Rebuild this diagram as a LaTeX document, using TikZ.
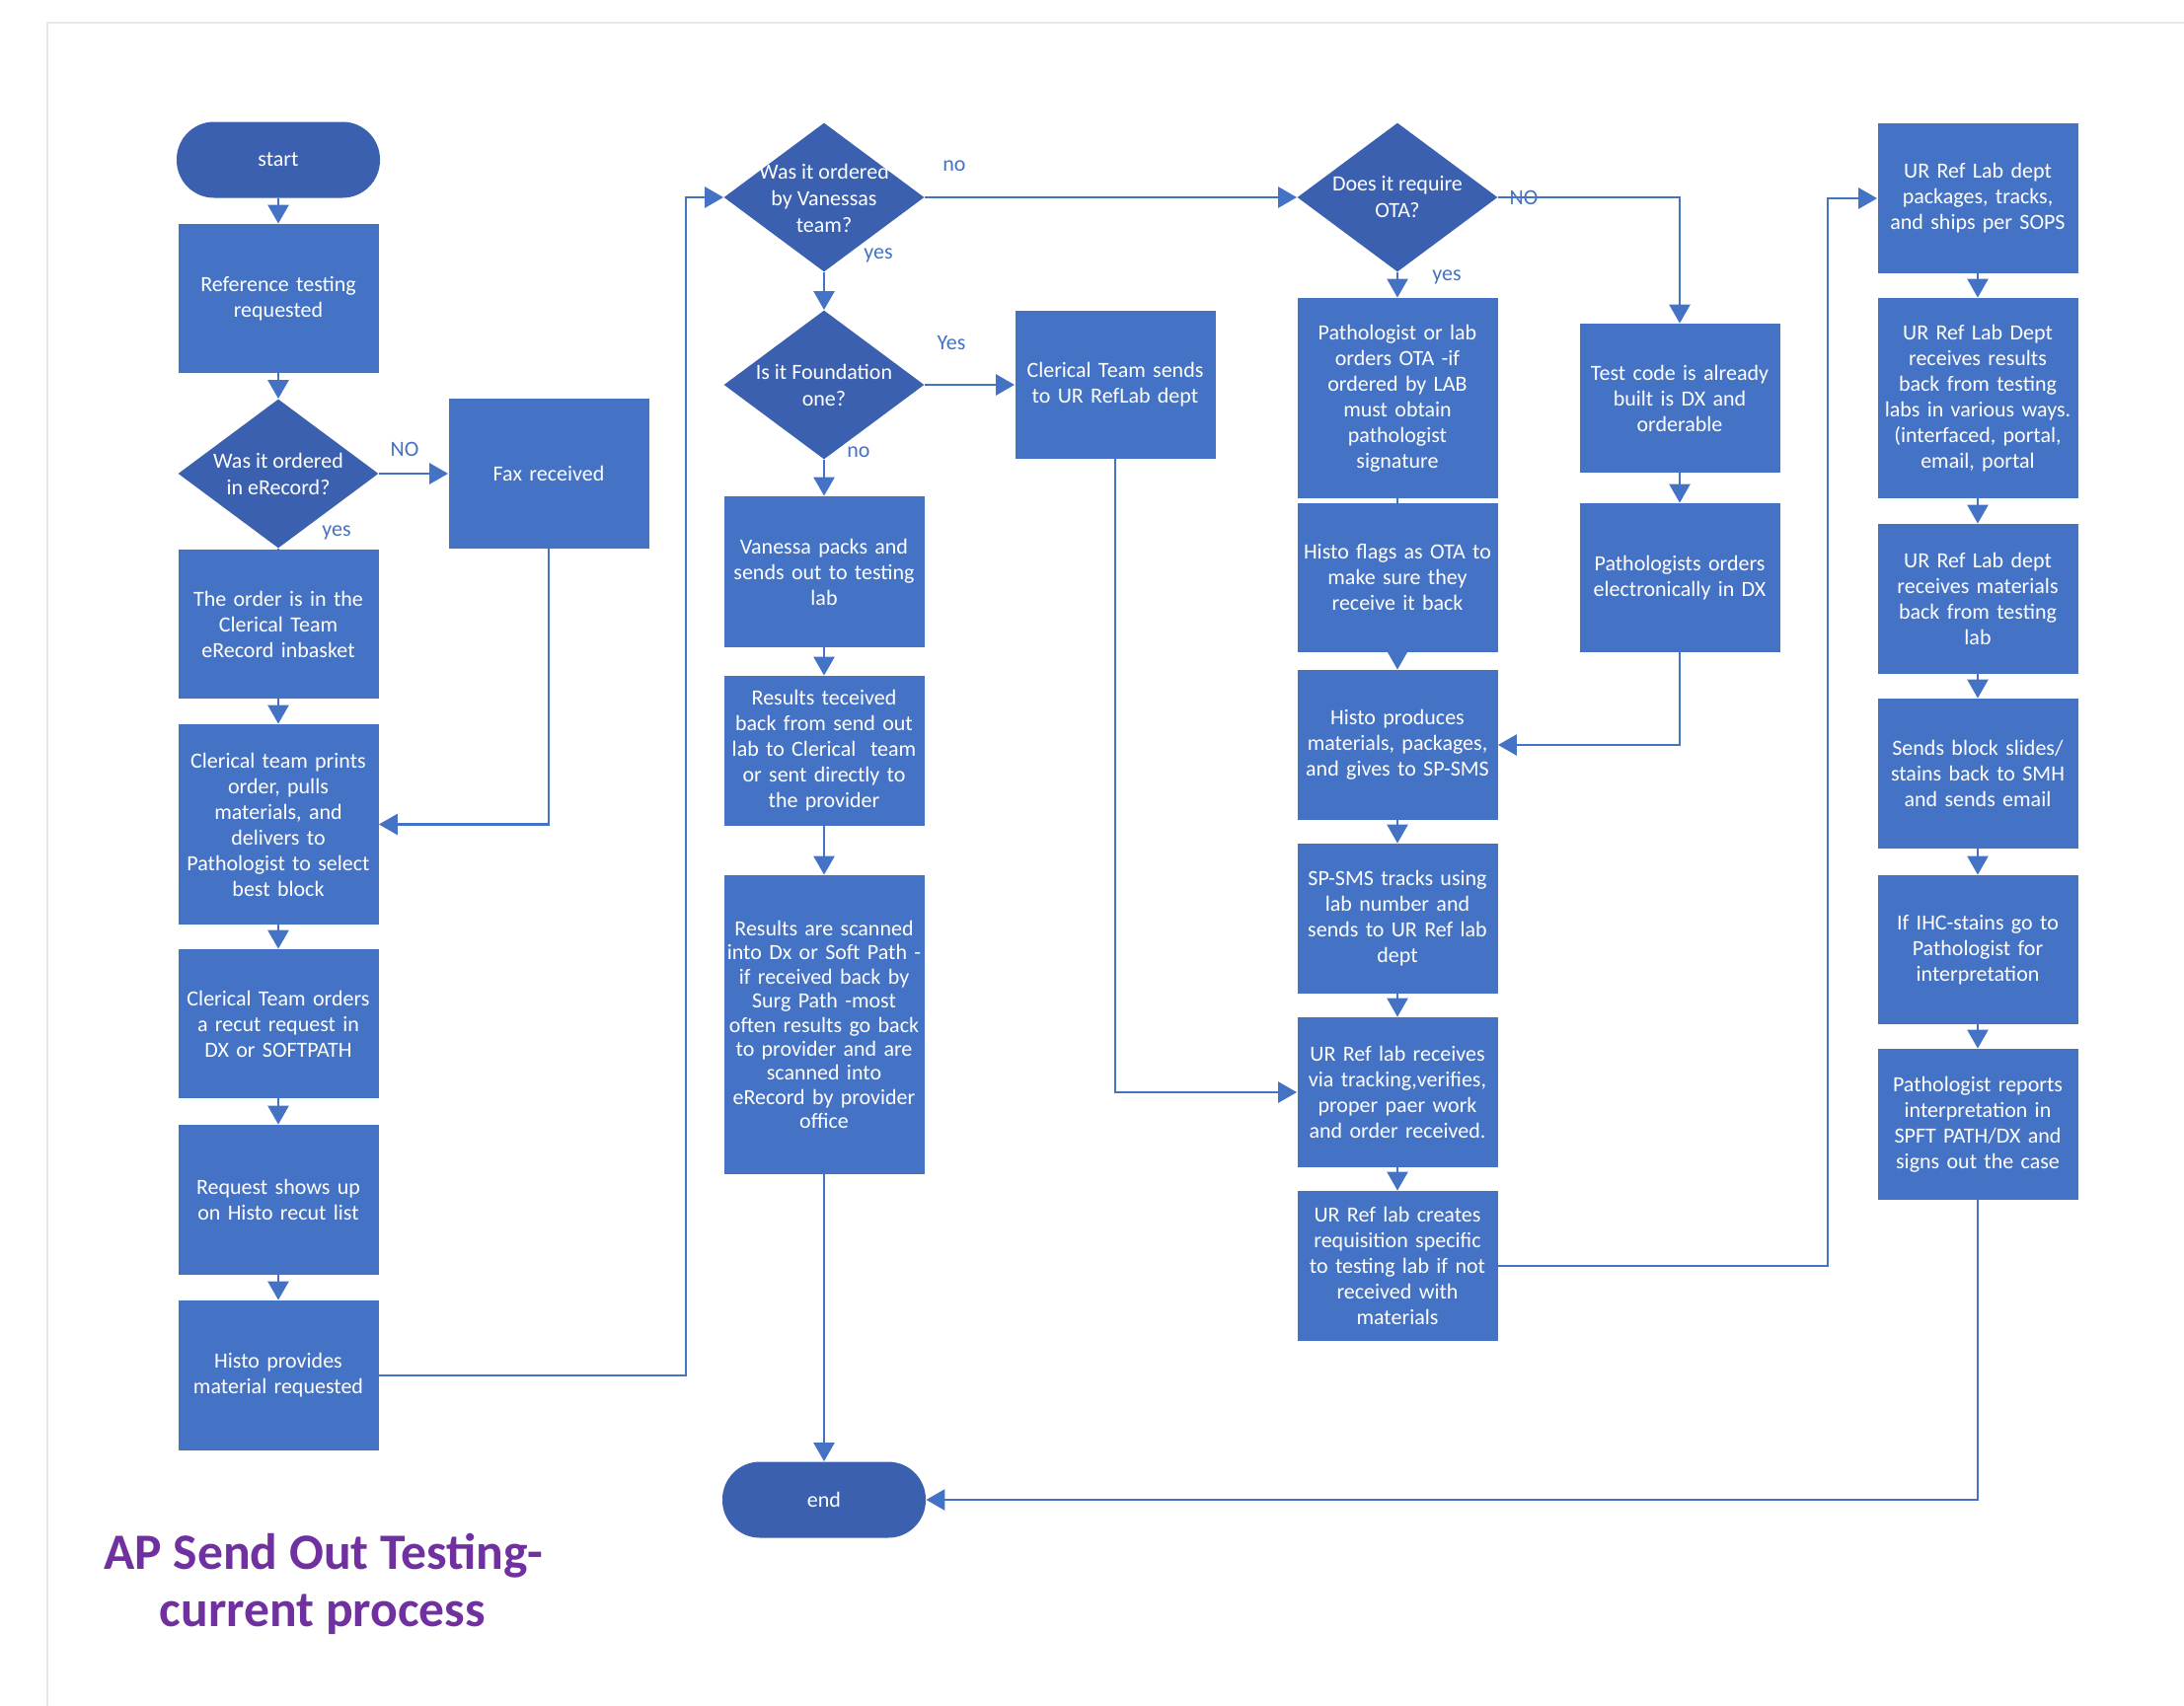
\documentclass[tikz,border=0pt]{standalone}
\usepackage{fontspec}
\setmainfont{Carlito}
\usetikzlibrary{shapes.geometric,arrows.meta}
\definecolor{boxblue}{RGB}{68,114,196}
\definecolor{darkblue}{RGB}{58,96,175}
\definecolor{titlepurple}{RGB}{112,48,160}
\definecolor{framegray}{RGB}{232,232,232}
\newcommand\bxfont{\fontsize{11}{13}\selectfont}
\begin{document}
\begin{tikzpicture}[x=0.5pt,y=-0.5pt,
  proc/.style={rectangle, fill=boxblue, text=white, minimum width=101.5pt, text width=100pt, align=center, inner sep=0pt, font=\bxfont},
  dia/.style={diamond, fill=darkblue, minimum width=101.5pt, minimum height=75.5pt, inner sep=0pt},
  diatext/.style={text=white, align=center, font=\fontsize{11}{13.5}\selectfont, inner sep=0pt},
  term/.style={rectangle, rounded corners=19pt, fill=darkblue, text=white, minimum width=103pt, minimum height=38.5pt, font=\bxfont, inner sep=0pt},
  lbl/.style={text=boxblue, font=\fontsize{11}{13}\selectfont, inner sep=0pt},
  conn/.style={draw=boxblue, line width=1.3pt},
  arr/.style={conn, -{Triangle[width=10.5pt,length=9.5pt]}},
  titletext/.style={text=titlepurple, font=\fontsize{25.8}{29}\selectfont\bfseries, inner sep=0pt, anchor=base}
]
\fill[white] (0,0) rectangle (2213,1729);
\useasboundingbox (0,0) rectangle (2213,1729);
\draw[framegray, line width=1.2pt] (48,1729) -- (48,23) -- (2213,23);

% column 1
\node[term] (start) at (282,162) {start};
\node[proc, minimum height=75.5pt] (ref) at (282,302.5) {Reference testing\\requested};
\node[dia] (d1) at (282,480) {};
\node[diatext] (d1t) at (282,480) {Was it ordered\\in eRecord?};
\node[proc, minimum height=76pt] (fax) at (556,480) {Fax received};
\node[proc, minimum height=75.5pt] (order) at (282,632.5) {The order is in the\\Clerical Team\\eRecord inbasket};
\node[proc, minimum height=101.5pt] (prints) at (282,835.5) {Clerical team prints\\order, pulls\\materials, and\\delivers to\\Pathologist to select\\best block};
\node[proc, minimum height=75.5pt] (orders) at (282,1037.5) {Clerical Team orders\\a recut request in\\DX or SOFTPATH};
\node[proc, minimum height=76pt] (request) at (282,1216) {Request shows up\\on Histo recut list};
\node[proc, minimum height=76pt] (histo1) at (282,1394) {Histo provides\\material requested};

% column 2
\node[dia] (d2) at (835,200) {};
\node[diatext] (d2t) at (835,201) {Was it ordered\\by Vanessas\\team?};
\node[dia] (d3) at (835,390) {};
\node[diatext] (d3t) at (835,390) {Is it Foundation\\one?};
\node[proc, minimum height=75pt] (clerk) at (1130,390) {Clerical Team sends\\to UR RefLab dept};
\node[proc, minimum height=76.5pt] (vanessa) at (835,579.5) {Vanessa packs and\\sends out to testing\\lab};
\node[proc, minimum height=76pt] (results1) at (835,761) {Results teceived\\back from send out\\lab to Clerical~ team\\or sent directly to\\the provider};
\node[proc, minimum height=151.5pt, font=\fontsize{11}{12.2}\selectfont] (results2) at (835,1038.5) {Results are scanned\\into Dx or Soft Path -\\if received back by\\Surg Path -most\\often results go back\\to provider and are\\scanned into\\eRecord by provider\\office};
\node[term] (end) at (835,1520) {end};

% column 3
\node[dia] (d4) at (1416,200) {};
\node[diatext] (d4t) at (1416,200) {Does it require\\OTA?};
\node[proc, minimum height=101.5pt] (pathlab) at (1416,403.5) {Pathologist or lab\\orders OTA -if\\ordered by LAB\\must obtain\\pathologist\\signature};
\node[proc, minimum height=75.5pt] (histoflags) at (1416,585.5) {Histo flags as OTA to\\make sure they\\receive it back};
\node[proc, minimum height=76pt] (histoprod) at (1416,755) {Histo produces\\materials, packages,\\and gives to SP-SMS};
\node[proc, minimum height=76pt] (spsms) at (1416,931) {SP-SMS tracks using\\lab number and\\sends to UR Ref lab\\dept};
\node[proc, minimum height=76pt] (urrecv) at (1416,1107) {UR Ref lab receives\\via tracking,verifies,\\proper paer work\\and order received.};
\node[proc, minimum height=76pt] (urcreate) at (1416,1283) {UR Ref lab creates\\requisition specific\\to testing lab if not\\received with\\materials};
\node[proc, minimum height=75.5pt] (testcode) at (1702,403.5) {Test code is already\\built is DX and\\orderable};
\node[proc, minimum height=75.5pt] (pathord) at (1702,585.5) {Pathologists orders\\electronically in DX};

% column 4
\node[proc, minimum height=76pt] (pkg) at (2004,201) {UR Ref Lab dept\\packages, tracks,\\and ships per SOPS};
\node[proc, minimum height=101.5pt] (results) at (2004,403.5) {UR Ref Lab Dept\\receives results\\back from testing\\labs in various ways.\\(interfaced, portal,\\email, portal};
\node[proc, minimum height=76pt] (materials) at (2004,607) {UR Ref Lab dept\\receives materials\\back from testing\\lab};
\node[proc, minimum height=76pt] (sends) at (2004,784) {Sends block slides/\\stains back to SMH\\and sends email};
\node[proc, minimum height=75.5pt] (ihc) at (2004,962.5) {If IHC-stains go to\\Pathologist for\\interpretation};
\node[proc, minimum height=76.5pt] (reports) at (2004,1139.5) {Pathologist reports\\interpretation in\\SPFT PATH/DX and\\signs out the case};

% labels
\node[lbl] (l1) at (410,455) {NO};
\node[lbl] (l2) at (341,540) {yes};
\node[lbl] (l3) at (967,168) {no};
\node[lbl] (l4) at (890,259) {yes};
\node[lbl] (l5) at (964,348) {Yes};
\node[lbl] (l6) at (870,458) {no};
\node[lbl] (l8) at (1466,281) {yes};

% title
\node[titletext] (title1) at (328,1590) {AP Send Out Testing-};
\node[titletext] (title2) at (327,1648) {current process};

% helper coordinates
\coordinate (xa) at (695,800);
\coordinate (xb) at (1852,700);

% connectors column 1
\draw[arr] (start.south) -- (ref.north);
\draw[arr] (ref.south) -- (d1.north);
\draw[arr] (d1.east) -- (fax.west);
\draw[conn] (d1.south) -- (order.north);
\draw[arr] (order.south) -- (prints.north);
\draw[arr] (prints.south) -- (orders.north);
\draw[arr] (orders.south) -- (request.north);
\draw[arr] (request.south) -- (histo1.north);
\draw[arr] (fax.south) |- (prints.east);
\draw[arr] (histo1.east) -| (xa) |- (d2.west);

% connectors column 2
\draw[arr] (d2.south) -- (d3.north);
\draw[arr] (d3.east) -- (clerk.west);
\draw[arr] (d3.south) -- (vanessa.north);
\draw[arr] (vanessa.south) -- (results1.north);
\draw[arr] (results1.south) -- (results2.north);
\draw[arr] (results2.south) -- (end.north);
\draw[arr] (clerk.south) |- (urrecv.west);
\draw[arr] (d2.east) -- (d4.west);

% connectors column 3
\draw[arr] (d4.south) -- (pathlab.north);
\draw[conn] (pathlab.south) -- (histoflags.north);
\draw[arr] (histoflags.south) -- (histoprod.north);
\draw[arr] (histoprod.south) -- (spsms.north);
\draw[arr] (spsms.south) -- (urrecv.north);
\draw[arr] (urrecv.south) -- (urcreate.north);
\draw[arr] (d4.east) -| (testcode.north);
\draw[arr] (testcode.south) -- (pathord.north);
\draw[arr] (pathord.south) |- (histoprod.east);
\draw[arr] (urcreate.east) -| (xb) |- (pkg.west);
\node[lbl] (l7) at (1544,200) {NO};

% connectors column 4
\draw[arr] (pkg.south) -- (results.north);
\draw[arr] (results.south) -- (materials.north);
\draw[arr] (materials.south) -- (sends.north);
\draw[arr] (sends.south) -- (ihc.north);
\draw[arr] (ihc.south) -- (reports.north);
\draw[arr] (reports.south) |- (end.east);
\end{tikzpicture}
\end{document}
